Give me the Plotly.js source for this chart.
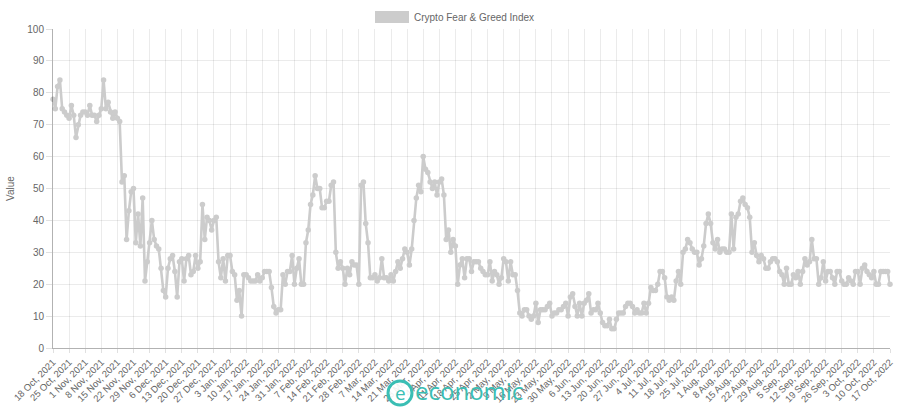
<!DOCTYPE html>
<html><head><meta charset="utf-8">
<script src="https://cdn.plot.ly/plotly-3.0.1.min.js"></script>
<style>html,body{margin:0;padding:0;background:#fff}#chart{width:904px;height:408px}</style>
</head><body><div id="chart"></div>
<script>
const startDate = '2021-10-18';
const seriesName = 'Crypto Fear & Greed Index';
const yAxisTitle = 'Value';
const watermarkText = 'economic';
const monthNames = ['Jan','Feb','Mar','Apr','May','Jun','Jul','Aug','Sep','Oct','Nov','Dec'];
const yTicks = [0,10,20,30,40,50,60,70,80,90,100];
const values = [
78,75,82,84,75,74,73,72,76,73,
66,70,73,74,74,73,76,73,73,71,
73,75,84,75,77,74,72,74,72,71,
52,54,34,43,49,50,33,42,32,47,
21,27,33,40,34,32,31,25,18,16,
25,28,29,24,16,27,28,21,28,29,
23,24,29,25,27,45,34,41,40,37,
40,41,27,22,28,21,29,29,24,23,
15,18,10,23,23,22,21,21,21,23,
21,22,24,24,24,19,13,11,12,12,
23,20,24,24,29,20,25,28,20,20,
33,37,45,48,54,50,50,44,44,46,
46,51,52,30,25,27,25,20,25,23,
27,26,26,20,51,52,39,33,22,22,
23,21,22,28,22,22,21,23,21,24,
27,25,28,31,30,26,31,40,47,51,
49,60,56,55,52,50,52,48,52,53,
48,34,37,30,34,32,20,26,28,22,
28,28,24,27,27,27,25,24,23,23,
27,21,24,23,20,22,28,27,21,27,
23,23,18,11,10,12,12,10,9,10,
14,8,12,12,12,13,14,10,11,11,
12,12,13,14,10,16,17,13,10,14,
10,14,15,17,11,12,12,14,11,8,
7,7,9,6,6,9,11,11,11,13,
14,14,13,11,12,11,11,14,11,14,
19,18,18,20,24,24,22,16,15,16,
15,21,24,20,30,31,34,33,31,30,
30,26,28,32,39,42,39,33,31,34,
30,31,31,30,30,42,31,41,42,46,
47,45,44,41,30,33,29,27,29,28,
25,25,27,28,28,27,24,23,20,25,
20,20,23,22,24,20,24,28,26,27,
34,28,28,20,22,27,21,24,24,22,
20,24,24,21,20,20,22,21,20,24,
24,20,25,26,24,23,22,24,20,20,
24,24,24,24,20
];

function dayOffset(iso, n){ const d = new Date(iso + 'T00:00:00Z'); d.setUTCDate(d.getUTCDate() + n); return d; }
const dates = values.map((_, i) => dayOffset(startDate, i).toISOString().slice(0, 10));
const tickDates = dates.filter((_, i) => i % 7 === 0);
const tickLabels = tickDates.map(s => { const d = new Date(s + 'T00:00:00Z'); return d.getUTCDate() + ' ' + monthNames[d.getUTCMonth()] + ', ' + d.getUTCFullYear(); });

const W = 904, H = 408, M = {l:53, r:14, t:29, b:60};
const pw = W - M.l - M.r, ph = H - M.t - M.b;
const px = v => (v - M.l) / pw;
const py = v => (H - M.b - v) / ph;
const gray = '#cccccc';
const teal = 'rgb(58,190,180)';
const font = 'Liberation Sans, Arial, Helvetica, sans-serif';

const trace = {
  type: 'scatter', mode: 'lines+markers', x: dates, y: values, name: seriesName,
  line: {color: gray, width: 2.6}, marker: {color: gray, size: 5.5},
  cliponaxis: false, hoverinfo: 'skip', showlegend: false
};

const layout = {
  width: W, height: H, margin: M, paper_bgcolor: '#fff', plot_bgcolor: '#fff',
  font: {family: font, size: 10, color: '#666'},
  showlegend: false,
  xaxis: {
    type: 'date', range: [dates[0], dates[dates.length - 1]], tickmode: 'array',
    tickvals: tickDates, ticktext: tickLabels, tickangle: -45,
    tickfont: {family: font, size: 9.5, color: '#666'},
    showgrid: true, gridcolor: 'rgba(0,0,0,0.08)', gridwidth: 1,
    ticks: 'outside', ticklen: 4, tickcolor: 'rgba(0,0,0,0.12)',
    showline: true, linecolor: 'rgba(0,0,0,0.3)', linewidth: 1,
    zeroline: false, automargin: false, fixedrange: true
  },
  yaxis: {
    range: [0, 100], tickmode: 'array', tickvals: yTicks,
    tickfont: {family: font, size: 10, color: '#666'},
    showgrid: true, gridcolor: 'rgba(0,0,0,0.08)', gridwidth: 1,
    ticks: 'outside', ticklen: 6, tickcolor: 'rgba(0,0,0,0.12)',
    showline: true, linecolor: 'rgba(0,0,0,0.3)', linewidth: 1,
    zeroline: false, automargin: false, fixedrange: true,
    title: {text: yAxisTitle, font: {family: font, size: 10, color: '#666'}, standoff: 10}
  },
  shapes: [
    {type: 'rect', xref: 'paper', yref: 'paper', x0: px(375), x1: px(409), y0: py(23), y1: py(11),
     fillcolor: gray, line: {width: 0}},
    {type: 'circle', xref: 'paper', yref: 'paper', x0: px(388), x1: px(412), y0: py(405), y1: py(381),
     line: {color: teal, width: 3}, fillcolor: 'rgba(255,255,255,0.9)'}
  ],
  annotations: [
    {xref: 'paper', yref: 'paper', x: px(412), y: py(17), xanchor: 'left', yanchor: 'middle',
     text: seriesName, showarrow: false, font: {family: font, size: 10, color: '#666'}},
    {xref: 'paper', yref: 'paper', x: px(400), y: py(393), xanchor: 'center', yanchor: 'middle',
     text: 'e', showarrow: false, font: {family: 'Open Sans, sans-serif', size: 19, color: teal}},
    {xref: 'paper', yref: 'paper', x: px(413), y: py(390), xanchor: 'left', yanchor: 'middle',
     text: watermarkText, showarrow: false, font: {family: 'Open Sans, sans-serif', size: 24, color: teal}}
  ]
};

Plotly.newPlot('chart', [trace], layout, {displayModeBar: false, staticPlot: true});
</script>
</body></html>
